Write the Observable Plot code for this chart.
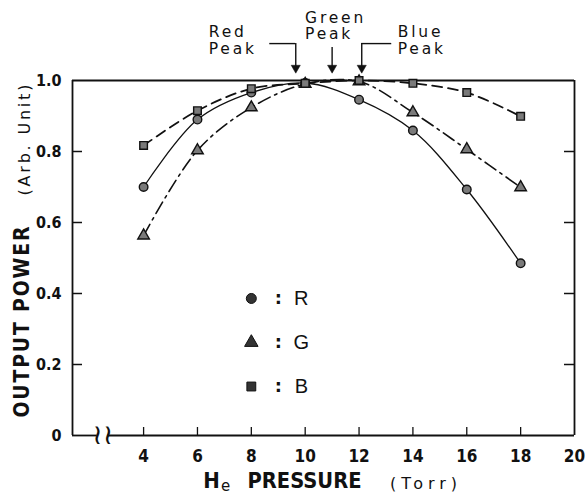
<!DOCTYPE html>
<html><head><meta charset="utf-8">
<script src="https://cdn.jsdelivr.net/npm/d3@7"></script>
<script src="https://cdn.jsdelivr.net/npm/@observablehq/plot@0.6"></script>
<style>body{margin:0;background:#fff}#chart{width:585px;height:500px}</style>
</head><body><div id="chart"></div>
<script>
// ---- data ----
const pressure = [4, 6, 8, 10, 12, 14, 16, 18];
const seriesR = [0.700, 0.890, 0.966, 0.993, 0.946, 0.859, 0.693, 0.485];
const seriesG = [0.563, 0.803, 0.924, 0.990, 0.997, 0.910, 0.806, 0.699];
const seriesB = [0.817, 0.915, 0.977, 0.992, 1.000, 0.992, 0.966, 0.899];
const seriesKeys = ["R", "G", "B"];
const xTicks = [4, 6, 8, 10, 12, 14, 16, 18, 20];
const yTicks = [0, 0.2, 0.4, 0.6, 0.8, 1.0];
const peakLabels = ["Red\nPeak", "Green\nPeak", "Blue\nPeak"];
const peakPressure = [9.65, 11.0, 12.1];

// ---- layout ----
const W = 585, H = 500;
const mL = 72, mR = 11, mT = 80, mB = 65;
const xDomain = [1.36, 20];
const breakAt = 2.48;
const pxX = (W - mL - mR) / (xDomain[1] - xDomain[0]);
const pxY = (H - mT - mB);
const COND = "'DejaVu Sans Condensed','Liberation Sans Narrow','DejaVu Sans',sans-serif";
const SANS = "'DejaVu Sans','Liberation Sans',sans-serif";

const valuesOf = {R: seriesR, G: seriesG, B: seriesB};
const symbolOf = {R: "circle", G: "triangle", B: "square"};
const dashOf = {R: null, G: "13,5,2.5,5", B: "10,6"};
const widthOf = {R: 1.3, G: 1.6, B: 1.8};
const rows = seriesKeys.flatMap(k => pressure.map((p, i) => ({k, p, v: valuesOf[k][i]})));
const peaks = peakLabels.map((label, i) => ({label, p: peakPressure[i], i}));
const fmt = d => d === 0 ? "0" : d.toFixed(1);
const ink = "#111";

const marks = [];
// frame with axis break
marks.push(Plot.ruleY([1], {x1: xDomain[0], x2: xDomain[1], stroke: ink, strokeWidth: 1.8}));
marks.push(Plot.ruleX([xDomain[0], xDomain[1]], {y1: 0, y2: 1, stroke: ink, strokeWidth: 1.8}));
marks.push(Plot.ruleY([0], {x1: xDomain[0], x2: breakAt - 0.2, stroke: ink, strokeWidth: 1.8}));
marks.push(Plot.ruleY([0], {x1: breakAt + 0.2, x2: xDomain[1], stroke: ink, strokeWidth: 1.8}));
marks.push(Plot.text([breakAt], {x: d => d, y: 0, text: () => "\u2240\u2240", fontSize: 28, fill: ink, fontFamily: SANS}));
// inward ticks
const innerY = yTicks.filter(d => d > 0 && d < 1);
marks.push(Plot.ruleY(innerY, {y: d => d, x1: xDomain[0], x2: xDomain[0] + 10 / pxX, stroke: ink, strokeWidth: 1.5}));
marks.push(Plot.ruleY(innerY, {y: d => d, x1: xDomain[1] - 10 / pxX, x2: xDomain[1], stroke: ink, strokeWidth: 1.5}));
marks.push(Plot.ruleX(xTicks.filter(d => d < 20), {x: d => d, y1: 0, y2: 8 / pxY, stroke: ink, strokeWidth: 1.3}));
// axes labels
marks.push(Plot.axisY(yTicks, {anchor: "left", tickSize: 0, tickPadding: 11, tickFormat: fmt, label: null,
  fontSize: 16, fontWeight: "bold", fontFamily: COND, fill: ink}));
marks.push(Plot.axisX(xTicks, {anchor: "bottom", tickSize: 0, tickPadding: 14, label: null,
  fontSize: 17, fontWeight: "bold", fontFamily: COND, fill: ink}));
// series lines
for (const k of seriesKeys) {
  marks.push(Plot.line(rows.filter(r => r.k === k), {x: "p", y: "v", curve: "catmull-rom",
    stroke: ink, strokeWidth: widthOf[k], strokeDasharray: dashOf[k]}));
}
// points
marks.push(Plot.dot(rows, {x: "p", y: "v", symbol: d => symbolOf[d.k], r: 4.3,
  fill: "#7a7a7a", stroke: ink, strokeWidth: 1.4}));
// legend
const legY = (d, i) => 0.386 - i * 0.124;
marks.push(Plot.dot(seriesKeys, {x: () => 8.0, y: legY, symbol: d => symbolOf[d], r: 5,
  fill: "#333", stroke: ink, strokeWidth: 1}));
marks.push(Plot.text(seriesKeys, {x: () => 8.0, y: legY, dx: 27, text: () => ":", fontSize: 18, fill: ink, fontFamily: SANS, fontWeight: "bold"}));
marks.push(Plot.text(seriesKeys, {x: () => 8.0, y: legY, dx: 50, text: d => d, fontSize: 20, fill: ink, fontFamily: "'Liberation Sans',sans-serif"}));
// axis titles (rotated: anchored at their lower end)
marks.push(Plot.text(["OUTPUT POWER"], {frameAnchor: "left", dx: -50, dy: 159.5, rotate: -90, textAnchor: "start", text: d => d,
  fontSize: 21, fontWeight: "bold", fontFamily: COND, fill: ink, ariaDescription: "ttl-ylab"}));
marks.push(Plot.text(["(Arb. Unit)"], {frameAnchor: "left", dx: -48, dy: -62.5, rotate: -90, textAnchor: "start", text: d => d,
  fontSize: 16, fontFamily: SANS, fill: ink, ariaDescription: "ttl-arb"}));
marks.push(Plot.text(["H"], {frameAnchor: "bottom", dx: -112, dy: 52, text: d => d,
  fontSize: 22, fontWeight: "bold", fontFamily: COND, fill: ink}));
marks.push(Plot.text(["e"], {frameAnchor: "bottom", dx: -98, dy: 55, text: d => d,
  fontSize: 15, fontFamily: SANS, fill: ink}));
marks.push(Plot.text(["PRESSURE"], {frameAnchor: "bottom", dx: -19, dy: 52, text: d => d,
  fontSize: 22, fontWeight: "bold", fontFamily: COND, fill: ink, ariaDescription: "ttl-press"}));
marks.push(Plot.text(["(Torr)"], {frameAnchor: "bottom", dx: 100, dy: 53, text: d => d,
  fontSize: 16, fontFamily: SANS, fill: ink, ariaDescription: "ttl-torr"}));
// peak annotations
const tipY = 1.0225, topY = 1.104;
marks.push(Plot.ruleX(peaks, {x: "p", y1: d => d.i === 1 ? 1.093 : topY, y2: tipY + 0.012, stroke: ink, strokeWidth: 1.4}));
marks.push(Plot.dot(peaks, {x: "p", y: tipY + 0.013, symbol: "triangle", rotate: 180, r: 3.4, fill: ink, stroke: ink, strokeWidth: 0.5}));
marks.push(Plot.ruleY(peaks.filter(d => d.i === 0), {y: topY, x1: d => d.p - 26 / pxX, x2: "p", stroke: ink, strokeWidth: 1.4}));
marks.push(Plot.ruleY(peaks.filter(d => d.i === 2), {y: topY, x1: "p", x2: d => d.p + 30 / pxX, stroke: ink, strokeWidth: 1.4}));
const peakText = (i, dx, y) => Plot.text(peaks.filter(d => d.i === i), {x: "p", y: () => y, dx, text: "label",
  textAnchor: "start", lineAnchor: "middle", lineHeight: 1.05, fontSize: 15.5, fontFamily: SANS, fill: ink, ariaDescription: "peak"});
marks.push(peakText(0, -87, 1.113));
marks.push(peakText(1, -27, 1.154));
marks.push(peakText(2, 36, 1.113));

const chart = Plot.plot({
  width: W, height: H,
  marginLeft: mL, marginRight: mR, marginTop: mT, marginBottom: mB,
  x: {domain: xDomain, axis: null},
  y: {domain: [0, 1], axis: null},
  style: {background: "#fff", color: ink, fontFamily: SANS, overflow: "visible"},
  marks
});
document.getElementById("chart").appendChild(chart);

const svg = d3.select(chart);
svg.selectAll('g[aria-description="peak"] text').style("letter-spacing", "2.8px");
svg.selectAll('g[aria-description="ttl-ylab"] text').style("letter-spacing", "1.8px");
svg.selectAll('g[aria-description="ttl-arb"] text').style("letter-spacing", "2.8px");
svg.selectAll('g[aria-description="ttl-press"] text').attr("textLength", 114).attr("lengthAdjust", "spacingAndGlyphs");
svg.selectAll('g[aria-description="ttl-torr"] text').attr("textLength", 67).attr("lengthAdjust", "spacing");
</script>
</body></html>
